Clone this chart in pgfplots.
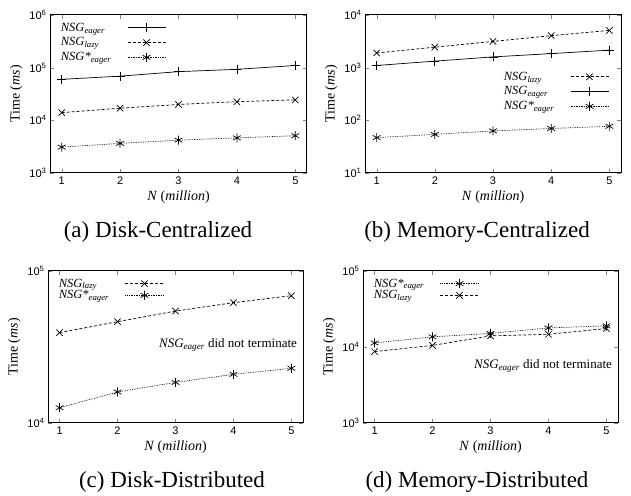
\documentclass[border=0pt]{standalone}
\usepackage{fontspec}
\setmainfont{Liberation Serif}
\newfontfamily\sansf{Liberation Sans}
\usepackage{pgfplots}
\pgfplotsset{compat=1.18}
\pgfplotsset{
  every axis/.append style={
    scale only axis,
    xmin=0.8, xmax=5.2,
    xtick={1,2,3,4,5},
    xticklabels={1,2,3,4,5},
    tick align=inside,
    major tick length=4pt,
    axis line style={line width=1pt},
    tick label style={font=\sansf\fontsize{11}{13}\selectfont},
    label style={font=\fontsize{14}{16}\selectfont},
    xlabel={\textit{N} (\textit{million})},
    ylabel={Time (\textit{ms})},
    legend cell align=left,
    legend plot pos=right,
  },
  every axis legend/.append style={draw=none, fill=none, font=\fontsize{12.5}{14.5}\selectfont, inner sep=1pt},
  legend image code/.code={\path (0pt,0pt); \draw[mark repeat=2,mark phase=2,#1] plot coordinates {(14pt,0pt) (33pt,0pt) (52pt,0pt)};},
}
\tikzset{
  seager/.style={black, line width=0.7pt, solid, mark=+, mark size=4.5pt, mark options={solid, line width=0.7pt}},
  slazy/.style={black, line width=0.7pt, densely dashed, mark=x, mark size=4.5pt, mark options={solid, line width=0.7pt}},
  sstar/.style={black, line width=0.7pt, densely dotted, mark=asterisk, mark size=4.5pt, mark options={solid, line width=0.7pt}},
}
\newcommand\NSGe{\textit{NSG\textsubscript{eager}}}
\newcommand\NSGl{\textit{NSG\textsubscript{lazy}}}
\newcommand\NSGs{\textit{NSG*\textsubscript{eager}}}
\begin{document}
\begin{tikzpicture}
\path[use as bounding box] (0pt,0pt) rectangle (631pt,495pt);
% (a)
\begin{axis}[at={(50pt,322pt)}, anchor=south west, width=257pt, height=158pt,
  ymode=log, yminorticks=false,
  ymin=1000, ymax=1000000, ytick={1000,10000,100000,1000000},
  yticklabels={10\textsuperscript{3},10\textsuperscript{4},10\textsuperscript{5},10\textsuperscript{6}},
  legend style={at={(axis description cs:0.03,0.97)}, anchor=north west, row sep=1pt}]
\addplot[seager] coordinates {(1,60000)(2,69000)(3,84000)(4,93000)(5,110000)};
\addlegendentry{\NSGe}
\addplot[slazy] coordinates {(1,14000)(2,17000)(3,20000)(4,22600)(5,24500)};
\addlegendentry{\NSGl}
\addplot[sstar] coordinates {(1,3100)(2,3650)(3,4200)(4,4650)(5,5100)};
\addlegendentry{\NSGs}
\end{axis}
% (b)
\begin{axis}[at={(365pt,322pt)}, anchor=south west, width=256pt, height=158pt,
  ymode=log, yminorticks=false,
  ymin=10, ymax=10000, ytick={10,100,1000,10000},
  yticklabels={10\textsuperscript{1},10\textsuperscript{2},10\textsuperscript{3},10\textsuperscript{4}},
  legend style={at={(axis description cs:0.53,0.66)}, anchor=north west, row sep=1pt}]
\addplot[slazy] coordinates {(1,1900)(2,2450)(3,3150)(4,4050)(5,5100)};
\addlegendentry{\NSGl}
\addplot[seager] coordinates {(1,1100)(2,1330)(3,1600)(4,1850)(5,2150)};
\addlegendentry{\NSGe}
\addplot[sstar] coordinates {(1,47)(2,54)(3,63)(4,70)(5,77)};
\addlegendentry{\NSGs}
\end{axis}
% (c)
\begin{axis}[at={(48pt,72pt)}, anchor=south west, width=255pt, height=152pt,
  ymode=log, yminorticks=false,
  ymin=10000, ymax=100000, ytick={10000,100000},
  yticklabels={10\textsuperscript{4},10\textsuperscript{5}},
  legend style={at={(axis description cs:0.03,0.97)}, anchor=north west, row sep=-2pt}]
\addplot[slazy] coordinates {(1,39300)(2,46400)(3,54500)(4,61900)(5,68800)};
\addlegendentry{\NSGl}
\addplot[sstar] coordinates {(1,12600)(2,16000)(3,18500)(4,20900)(5,22900)};
\addlegendentry{\NSGs}
\node[anchor=east, font=\fontsize{13}{15}\selectfont] at (rel axis cs:0.99,0.513) {\NSGe{} did not terminate};
\end{axis}
% (d)
\begin{axis}[at={(363pt,72pt)}, anchor=south west, width=255pt, height=152pt,
  ymode=log, yminorticks=false,
  ymin=1000, ymax=100000, ytick={1000,10000,100000},
  yticklabels={10\textsuperscript{3},10\textsuperscript{4},10\textsuperscript{5}},
  legend style={at={(axis description cs:0.03,0.97)}, anchor=north west, row sep=-2pt}]
\addplot[sstar] coordinates {(1,11300)(2,13600)(3,15100)(4,17800)(5,19000)};
\addlegendentry{\NSGs}
\addplot[slazy] coordinates {(1,8700)(2,10500)(3,14000)(4,14700)(5,17500)};
\addlegendentry{\NSGl}
\node[anchor=east, font=\fontsize{13}{15}\selectfont] at (rel axis cs:0.99,0.375) {\NSGe{} did not terminate};
\end{axis}
% captions
\node[font=\fontsize{23}{26}\selectfont] at (158pt,263pt) {(a) Disk-Centralized};
\node[font=\fontsize{23}{26}\selectfont] at (477pt,263pt) {(b) Memory-Centralized};
\node[font=\fontsize{23}{26}\selectfont] at (172pt,13pt) {(c) Disk-Distributed};
\node[font=\fontsize{23}{26}\selectfont] at (477pt,13pt) {(d) Memory-Distributed};
\end{tikzpicture}
\end{document}
